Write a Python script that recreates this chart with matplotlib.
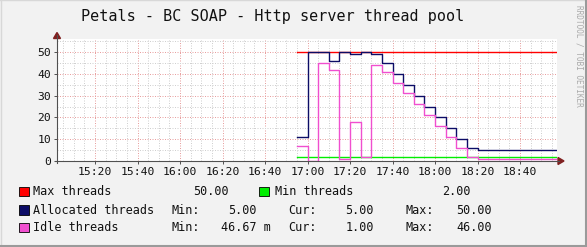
import matplotlib
matplotlib.use("Agg")
import matplotlib.pyplot as plt
from matplotlib.lines import Line2D
from matplotlib.patches import Rectangle
import numpy as np

# ---------------- data ----------------
title = "Petals - BC SOAP - Http server thread pool"
start_time = "16:55"          # first 5-minute sample
step_minutes = 5
allocated = [11, 50, 50, 46, 50, 49, 50, 49, 45, 40, 35, 30, 25, 20, 15, 10, 6,
             5, 5, 5, 5, 5, 5, 5, 5]
idle = [6.67, 0.047, 45.2, 42, 1, 18, 2, 44, 41, 36, 31, 26, 21, 16, 11, 6, 2,
        1, 1, 1, 1, 1, 1, 1, 1]
max_threads = 50.0
min_threads = 2.0
x_tick_labels = ["15:20", "15:40", "16:00", "16:20", "16:40", "17:00",
                 "17:20", "17:40", "18:00", "18:20", "18:40"]
y_ticks = [0, 10, 20, 30, 40, 50]
view_start = "15:02"
view_end = "18:57"

legend_names = ["Max threads", "Min threads", "Allocated threads", "Idle threads"]
legend_colors = ["#FF0000", "#00EE00", "#0C0C66", "#F04FCF"]
alloc_stats = {"Min": "5.00", "Cur": "5.00", "Max": "50.00"}
idle_stats = {"Min": "46.67 m", "Cur": "1.00", "Max": "46.00"}
max_stat = "50.00"
min_stat = "2.00"


def to_min(hhmm):
    h, m = hhmm.split(":")
    return (int(h) - 15) * 60 + int(m)


W, H = 587, 247
fig = plt.figure(figsize=(W / 100, H / 100), dpi=100)
fig.patch.set_facecolor("#F2F2F2")

# axes in pixel layout
L, R, T, B = 57, 557, 39, 161
ax = fig.add_axes([L / W, 1 - B / H, (R - L) / W, (B - T) / H])
ax.set_facecolor("white")

t0 = to_min(start_time)
n = len(allocated)
t = t0 + step_minutes * np.arange(n + 1)
x0, x1 = to_min(view_start) + 0.1, to_min(view_end) + 0.4
ax.set_xlim(x0, x1)
ax.set_ylim(0, 56)

# grid
for xm in np.arange(to_min("15:05"), x1, 5):
    major = (xm % 20 == 0)
    ax.axvline(xm, color="#E8A0A0" if major else "#D0D0D0", lw=0.72,
               ls=(0, (1, 1.5)), zorder=1)
for ym in np.arange(5, 56, 5):
    major = (ym % 10 == 0)
    ax.axhline(ym, color="#E8A0A0" if major else "#D0D0D0", lw=0.72,
               ls=(0, (1, 1.5)), zorder=1)

lw = 1.0
tend = min(t[-1], x1)
ax.plot([t0, tend], [max_threads, max_threads], color=legend_colors[0], lw=lw, zorder=3)
ax.plot([t0, tend], [min_threads, min_threads], color=legend_colors[1], lw=lw, zorder=3)
ax.step(t, list(allocated) + [allocated[-1]], where="post", color=legend_colors[2], lw=lw, zorder=4)
ax.step(t, list(idle) + [idle[-1]], where="post", color=legend_colors[3], lw=lw, zorder=4)

# axes/ticks
for s in ["top", "right", "left", "bottom"]:
    ax.spines[s].set_visible(False)
ax.set_xticks([to_min(s) for s in x_tick_labels])
ax.set_xticklabels(x_tick_labels)
ax.set_yticks(y_ticks)
ax.set_yticklabels([str(v) for v in y_ticks])
mono = "DejaVu Sans Mono"
ax.tick_params(axis="both", length=2.2, width=0.7, color="#505050",
               labelsize=8.2, pad=2, labelcolor="#111111")
for lab in ax.get_xticklabels() + ax.get_yticklabels():
    lab.set_family(mono)

# axis lines with arrows (figure pixel coords)
def fx(px):
    return px / W

def fy(py):
    return 1 - py / H

fig.add_artist(Line2D([fx(L), fx(L)], [fy(B + 2), fy(35)], color="#505050", lw=0.8))
fig.add_artist(Line2D([fx(L - 2), fx(R + 2)], [fy(B), fy(B)], color="#505050", lw=0.8))
fig.add_artist(plt.Polygon([[fx(L - 3.5), fy(38.5)], [fx(L + 3.5), fy(38.5)], [fx(L), fy(32.5)]],
                           closed=True, color="#802020"))
fig.add_artist(plt.Polygon([[fx(R + 1), fy(B - 3.5)], [fx(R + 1), fy(B + 3.5)], [fx(R + 7), fy(B)]],
                           closed=True, color="#802020"))

# title
fig.text(fx(273), fy(16), title, family=mono, fontsize=10.9, ha="center", va="center",
         color="#111111")
fig.text(fx(578.5), fy(5), "RRDTOOL / TOBI OETIKER", family=mono, fontsize=5.6,
         rotation=270, ha="center", va="top", color="#AAAAAA")

# legend
fs = 8.45
rows_y = [191.7, 210, 227.7]

def square(px, py, color):
    fig.add_artist(Rectangle((fx(px), fy(py + 4.5)), 9.5 / W, 9.5 / H, facecolor=color,
                             edgecolor="black", lw=0.6))

def txt(px, py, s, ha="left"):
    fig.text(fx(px), fy(py), s, family=mono, fontsize=fs, ha=ha, va="center", color="#111111")

square(19.3, rows_y[0], legend_colors[0])
txt(32.7, rows_y[0], legend_names[0])
txt(228.5, rows_y[0], max_stat, ha="right")
square(259.3, rows_y[0], legend_colors[1])
txt(275, rows_y[0], legend_names[1])
txt(470.5, rows_y[0], min_stat, ha="right")

for row, name, color, stats in [(1, legend_names[2], legend_colors[2], alloc_stats),
                                (2, legend_names[3], legend_colors[3], idle_stats)]:
    y = rows_y[row]
    square(19.3, y, color)
    txt(32.7, y, name)
    txt(171.7, y, "Min:")
    mn = stats["Min"]
    if mn.endswith(" m"):
        txt(270.7, y, mn, ha="right")
    else:
        txt(256.7, y, mn, ha="right")
    txt(288.7, y, "Cur:")
    txt(374, y, stats["Cur"], ha="right")
    txt(406, y, "Max:")
    txt(491.7, y, stats["Max"], ha="right")

# frame
fig.add_artist(Line2D([fx(0.5), fx(0.5)], [0, 1], color="#D8D8D8", lw=1))
fig.add_artist(Line2D([0, 1], [fy(0.5), fy(0.5)], color="#D8D8D8", lw=1))
fig.add_artist(Line2D([fx(W - 1), fx(W - 1)], [0, 1], color="#9A9A9A", lw=1.5))
fig.add_artist(Line2D([0, 1], [fy(H - 1), fy(H - 1)], color="#9A9A9A", lw=1.5))

fig.savefig("out.png", dpi=100, facecolor=fig.get_facecolor())
